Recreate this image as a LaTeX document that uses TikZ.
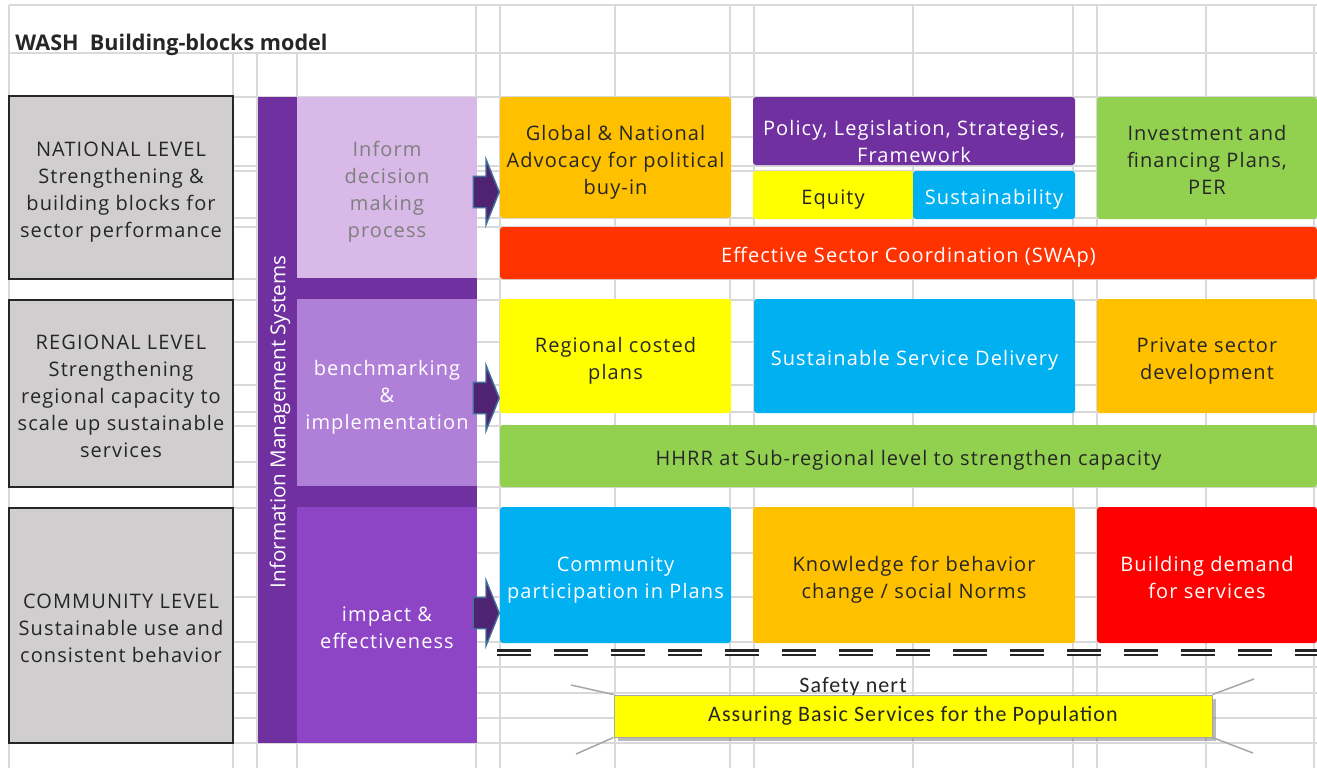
\documentclass[tikz,border=0pt]{standalone}
\usepackage{fontspec}
\setmainfont{Open Sans}[LetterSpace=5.5]
\newfontfamily\plainfont{Open Sans}
\newfontfamily\narrowfont{Carlito}[LetterSpace=5]
\usetikzlibrary{positioning, shapes.arrows, shadows}

\definecolor{ink}{HTML}{262626}
\definecolor{gridgray}{HTML}{D9D9D9}
\definecolor{levelgray}{HTML}{D0CECE}
\definecolor{imspurple}{HTML}{7030A0}
\definecolor{paneltop}{HTML}{D8B9E8}
\definecolor{panelmid}{HTML}{B07FD7}
\definecolor{panelbot}{HTML}{8E45C5}
\definecolor{informgray}{HTML}{7F7F7F}
\definecolor{arrowfill}{HTML}{4E2371}
\definecolor{arrowedge}{HTML}{41719C}
\definecolor{xlorange}{HTML}{FFC000}
\definecolor{xlyellow}{HTML}{FFFF00}
\definecolor{xlcyan}{HTML}{00B0F0}
\definecolor{xlgreen}{HTML}{92D050}
\definecolor{xlredorange}{HTML}{FF3300}
\definecolor{xlred}{HTML}{FF0000}
\definecolor{raygray}{HTML}{A6A6A6}

% first line of a box text sits a little lower, as in the sheet
\newcommand{\topstrut}{\rule{0pt}{12pt}}

\tikzset{
  boxsize/.style 2 args={minimum width=#1*0.5pt, minimum height=#2*0.5pt},
  bodyfont/.style={font=\fontsize{10}{13.5}\selectfont},
  lowtext/.style={execute at begin node={\topstrut}, execute at end node={\rule[-2.5pt]{0pt}{0pt}}},
  blk/.style={rectangle, rounded corners=1.5pt, inner sep=0pt, align=center, bodyfont, lowtext},
  darkblk/.style={blk, text=ink},
  whiteblk/.style={blk, text=white},
  panel/.style={rectangle, inner sep=0pt, align=center, bodyfont, lowtext},
  levelbox/.style={rectangle, draw=ink, line width=1pt, fill=levelgray, inner sep=0pt, align=center, text=ink, bodyfont, lowtext},
  gridline/.style={draw=gridgray, line width=0.75pt},
  blockarrow/.style={single arrow, fill=arrowfill, draw=arrowedge, line width=0.7pt, inner xsep=0pt, inner ysep=7.5pt, minimum height=13pt, single arrow head extend=8.5pt, single arrow tip angle=136, anchor=tip},
  safetyline/.style={draw=ink, line width=1.2pt, double=white, double distance=1pt, dash pattern=on 17pt off 11.5pt},
  ray/.style={draw=raygray, line width=0.75pt},
}

\begin{document}
\begin{tikzpicture}[x=0.5pt, y=-0.5pt]
\useasboundingbox (0,0) rectangle (1317,768);
\fill[white] (0,0) rectangle (1317,768);

% sheet grid
\foreach \gx in {9,476,500,615,730,754,913,1073,1097,1206,1314}
    \draw[gridline] (\gx,5) -- (\gx,768);
\foreach \gx in {233,257,297}
    \draw[gridline] (\gx,53) -- (\gx,768);
\foreach \gy in {5,53,97,137,166,171,218,227,279,300,342,385,412,426,462,487,508,553,597,642,667,693,718,743}
    \draw[gridline] (9,\gy) -- (1317,\gy);

\node[anchor=base west, inner sep=0pt, text=ink, font=\plainfont\fontsize{10.8}{12}\selectfont\bfseries] (title) at (15,50) {WASH\ \ Building-blocks model};

% levels
\node[levelbox, boxsize={224}{183}] (natl) at (121,187.5) {\topstrut NATIONAL LEVEL\\Strengthening \&\\building blocks for\\sector performance};
\node[levelbox, boxsize={224}{187}] (regl) at (121,393.5) {\topstrut REGIONAL LEVEL\\Strengthening\\regional capacity to\\scale up sustainable\\services};
\node[levelbox, boxsize={224}{235}] (comm) at (121,625.5) {\topstrut COMMUNITY LEVEL\\Sustainable use and\\consistent behavior};

% information systems column
\node[rectangle, inner sep=0pt, fill=imspurple, boxsize={219}{646}] (ims) at (367.5,420) {};
\node[rotate=90, text=white, font=\plainfont\fontsize{10.3}{12}\selectfont] (imslabel) at (280,422) {Information Management Systems};
\node[panel, fill=paneltop, text=informgray, boxsize={180}{181}] (inform) at (387,187.5) {\topstrut Inform\\decision\\making\\process};
\node[panel, fill=panelmid, text=white, boxsize={180}{187}] (bench) at (387,392.5) {\topstrut benchmarking\\\&\\implementation};
\node[panel, fill=panelbot, text=white, boxsize={180}{236}] (impact) at (387,625) {\topstrut impact \&\\effectiveness};

% national row
\node[darkblk, fill=xlorange, boxsize={231}{121}] (advocacy) at (615.5,157.5) {\topstrut Global \& National\\Advocacy for political\\buy-in};
\node[rectangle, rounded corners=1.5pt, fill=imspurple, boxsize={322}{68}] (policy) at (914,131) {};
\node[text=white, align=center, inner sep=0pt, bodyfont] (policytxt) at (914,141) {Policy, Legislation, Strategies,\\Framework};
\node[darkblk, fill=xlyellow, boxsize={160}{48}] (equity) at (833,195) {Equity};
\node[whiteblk, fill=xlcyan, boxsize={162}{48}] (sustain) at (994,195) {Sustainability};
\node[darkblk, fill=xlgreen, boxsize={220}{122}] (invest) at (1207,158) {\topstrut Investment and\\financing Plans,\\PER};
\node[whiteblk, fill=xlredorange, boxsize={817}{52}] (swap) at (908.5,253) {Effective Sector Coordination (SWAp)};

% regional row
\node[darkblk, fill=xlyellow, boxsize={231}{114}] (costed) at (615.5,356) {\topstrut Regional costed\\plans};
\node[whiteblk, fill=xlcyan, boxsize={321}{114}] (delivery) at (914.5,356) {Sustainable Service Delivery};
\node[darkblk, fill=xlorange, boxsize={220}{114}] (private) at (1207,356) {\topstrut Private sector\\development};
\node[darkblk, fill=xlgreen, boxsize={817}{62}] (hhrr) at (908.5,456) {HHRR at Sub-regional level to strengthen capacity};

% community row
\node[whiteblk, fill=xlcyan, boxsize={231}{136}] (particip) at (615.5,575) {\topstrut Community\\participation in Plans};
\node[darkblk, fill=xlorange, boxsize={322}{136}] (behav) at (914,575) {\topstrut Knowledge for behavior\\change / social Norms};
\node[whiteblk, fill=xlred, boxsize={220}{136}] (demand) at (1207,575) {\topstrut Building demand\\for services};

% block arrows
\foreach \ay/\nm in {192/arrnat, 398/arrreg, 613/arrcom}
    \node[blockarrow] (\nm) at (500,\ay) {};

% safety net
\coordinate (netL) at (497,652.75);
\coordinate (netR) at (1317,652.75);
\draw[safetyline] (netL) -- (netR);
\node[anchor=base, inner sep=0pt, text=ink, font=\narrowfont\fontsize{11}{12}\selectfont] (safety) at (853,692) {Safety nert};
\foreach \anc/\px/\py in {north west/571/685, south west/576/754, north east/1254/679, south east/1253/753}
{
    \coordinate (r-\anc) at (\px,\py);
}
\node[rectangle, fill=xlyellow, draw=raygray, line width=0.5pt, boxsize={598}{42}, text height=8.2pt, text depth=2.6pt, drop shadow={shadow xshift=2pt, shadow yshift=-2pt, opacity=0.45, fill=black!60}, text=ink, font=\narrowfont\fontsize{11}{12}\selectfont] (assure) at (913,716) {Assuring Basic Services for the Population};
\foreach \anc in {north west, south west, north east, south east}
    \draw[ray] (assure.\anc) -- (r-\anc);
\end{tikzpicture}
\end{document}
